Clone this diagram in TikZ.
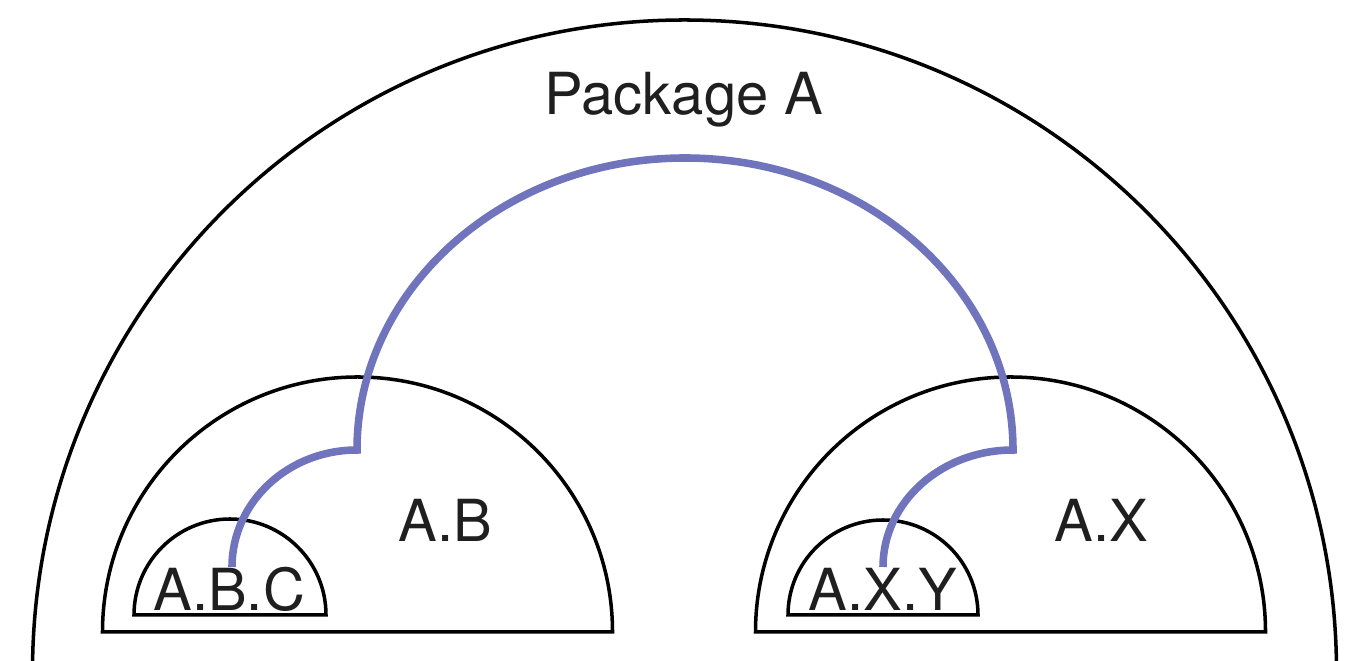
\documentclass[tikz,border=0pt]{standalone}
\usepackage{fontspec}
\setmainfont{TeX Gyre Heros}
\definecolor{linkblue}{RGB}{112,116,188}
\begin{document}
\begin{tikzpicture}[x=0.02cm,y=0.02cm,
  pkg/.style={line width=2pt,draw=black,line join=miter},
  link/.style={line width=4.3pt,draw=linkblue,line join=miter},
  lbl/.style={anchor=base,inner sep=0pt,font=\fontsize{33}{38}\selectfont,text=black!88}]
\useasboundingbox (0,0) rectangle (1369,661);
\clip (0,0) rectangle (1369,661);

% outer package boundary (runs past the bottom edge)
\draw[pkg] (32.5,-11) arc[start angle=180,end angle=0,radius=652];

% nested packages: closed half-discs
\draw[pkg] (102.5,29) arc[start angle=180,end angle=0,radius=255] -- cycle;
\draw[pkg] (755.5,29) arc[start angle=180,end angle=0,radius=255] -- cycle;
\draw[pkg] (134,46) arc[start angle=180,end angle=0,radius=96] -- cycle;
\draw[pkg] (788,46) arc[start angle=180,end angle=0,radius=95] -- cycle;

% labels
\node[lbl] (pA)   at (684,546) {Package A};
\node[lbl] (pAB)  at (445,119) {A.B};
\node[lbl] (pAX)  at (1101,119) {A.X};
\node[lbl] (pABC) at (229,50) {A.B.C};
\node[lbl] (pAXY) at (883,50) {A.X.Y};

% dependency link from A.B.C to A.X.Y
\coordinate (abcStart) at (232,94);
\coordinate (axyEnd) at (883,94);
\draw[link] (abcStart)
  arc[start angle=180,end angle=90,x radius=125,y radius=117]
  arc[start angle=180,end angle=0,x radius=328,y radius=292]
  arc[start angle=90,end angle=180,x radius=130,y radius=117];
\end{tikzpicture}
\end{document}
